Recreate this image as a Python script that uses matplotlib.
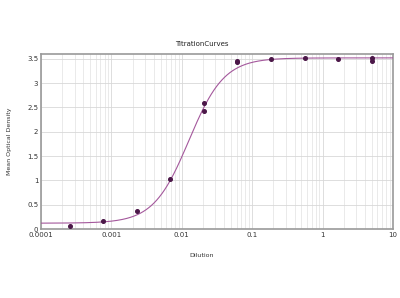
import numpy as np
from matplotlib import pyplot as plt
from matplotlib.ticker import LogLocator, FixedLocator

# readings (3-fold dilution series, duplicates)
dilution = [5.0, 5.0, 1.667, 0.556, 0.185, 0.0617, 0.0617, 0.0206, 0.0206,
            0.00686, 0.00229, 0.000762, 0.000254]
od = [3.51, 3.46, 3.49, 3.51, 3.50, 3.44, 3.46, 2.60, 2.43,
      1.03, 0.37, 0.16, 0.07]

# 4-parameter logistic fit, parameters
fit_bottom = 0.12
fit_top = 3.52
fit_ec50 = 0.0126
fit_hill = 1.73

xticks = [0.0001, 0.001, 0.01, 0.1, 1, 10]
xticklabels = ["0.0001", "0.001", "0.01", "0.1", "1", "10"]
yticks = [0, 0.5, 1, 1.5, 2, 2.5, 3, 3.5]
yticklabels = ["0", "0.5", "1", "1.5", "2", "2.5", "3", "3.5"]

fig = plt.figure(figsize=[4.0, 2.98], dpi=100)
ax = fig.add_axes([0.1025, 0.2315, 0.88, 0.5873])

xs = np.logspace(-4, 1, 400)
ys = fit_top + (fit_bottom - fit_top) / (1 + (xs / fit_ec50) ** fit_hill)
ax.plot(xs, ys, color='#a4589c', linewidth=0.8, zorder=3)
ax.plot(dilution, od, linestyle='none', marker='o', markersize=2.6,
        color='#4b1748', zorder=4)

ax.set_xscale("log")
ax.set_xlim(0.0001, 10)
ax.set_ylim(0, 3.6)
ax.xaxis.set_major_locator(FixedLocator(xticks))
ax.set_xticks(xticks)
ax.set_xticklabels(xticklabels)
ax.xaxis.set_minor_locator(LogLocator(base=10, subs=np.arange(2, 10)))
ax.xaxis.set_minor_formatter(plt.NullFormatter())
ax.set_yticks(yticks)
ax.set_yticklabels(yticklabels)

ax.grid(True, which='major', color='#d8d8d8', linewidth=0.6)
ax.grid(True, which='minor', axis='x', color='#e2e2e2', linewidth=0.5)
ax.set_axisbelow(True)
for s in ax.spines.values():
    s.set_color('#9a9a9a')
    s.set_linewidth(1.2)
ax.tick_params(which='both', length=0, labelsize=5, colors='#333333', pad=2)

ax.set_title('TitrationCurves', fontsize=5, color='#222222', pad=6, x=0.457)
ax.set_xlabel('Dilution', fontsize=4.5, color='#333333', labelpad=8)
ax.xaxis.set_label_coords(0.455, -0.135)
ax.set_ylabel('Mean Optical Density', fontsize=4.5, color='#333333', labelpad=11)

plt.savefig("out.png", dpi=100)
